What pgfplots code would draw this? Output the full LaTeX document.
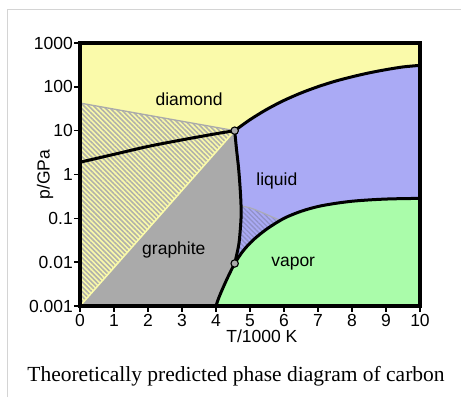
\documentclass[border=0pt]{standalone}
\usepackage{pgfplots}
\pgfplotsset{compat=1.18}
\usepackage{fontspec}
\setmainfont{Liberation Sans}
\newfontfamily\capfont{Liberation Serif}
\usetikzlibrary{patterns.meta}
\definecolor{dY}{RGB}{250,250,170}
\definecolor{gG}{RGB}{170,170,170}
\definecolor{lB}{RGB}{170,170,245}
\definecolor{vG}{RGB}{170,252,170}
\definecolor{hB}{RGB}{145,145,200}
\definecolor{frameG}{RGB}{212,212,212}
\begin{document}
\begin{tikzpicture}
\draw[frameG, line width=1pt] (7pt,0pt) -- (7pt,387pt) -- (461pt,387pt);
\begin{axis}[
  at={(80pt,91pt)}, anchor=south west,
  width=340pt, height=263pt, scale only axis,
  xmin=0, xmax=10, ymin=0.001, ymax=1000, ymode=log,
  xtick={0,1,2,3,4,5,6,7,8,9,10},
  ytick={0.001,0.01,0.1,1,10,100,1000},
  yticklabels={0.001,0.01,0.1,1,10,100,1000},
  yminorticks=false,
  tick align=outside, major tick length=6pt,
  xtick pos=left, ytick pos=left,
  tick style={black, line width=1.4pt},
  axis line style={line width=3.2pt},
  axis background/.style={fill=dY},
  axis on top,
  /pgf/number format/assume math mode=true,
  tick label style={font=\fontsize{17.5}{20}\selectfont},
  xticklabel style={inner sep=2.3pt},
  yticklabel style={inner sep=1pt},
  xlabel={T/1000 K}, ylabel={p/GPa},
  label style={font=\fontsize{17.5}{20}\selectfont},
  xlabel style={at={(rel axis cs:0.535,-0.116)}, anchor=center},
  ylabel style={at={(rel axis cs:-0.103,0.5)}, anchor=center},
]
% diamond (background)
\addplot[fill=dY, draw=none] coordinates {(0,0.001)(10,0.001)(10,1000)(0,1000)} -- cycle;
% graphite
\addplot[fill=gG, draw=none] coordinates {
(0,0.001)(0,1.905)(1,2.884)(2,4.365)(3,6.166)(4,8.511)(4.55,10)
(4.60,3.98)(4.66,1.514)(4.70,0.631)(4.73,0.263)(4.74,0.126)(4.72,0.0631)(4.67,0.0251)(4.55,0.00933)
(4.35,0.00457)(4.22,0.00275)(4.12,0.00182)(4.05,0.001318)(4.0,0.001)} -- cycle;
% liquid
\addplot[fill=lB, draw=none] coordinates {
(4.55,10)(5.0,17.8)(5.5,30.8)(6.0,49.0)(6.5,72.4)(7.0,100.9)(7.5,134.0)(8.0,169.4)(8.5,208.0)(9.0,246.6)(9.5,284.4)(10,309)
(10,0.2851)(9.5,0.2818)(9.0,0.2754)(8.5,0.263)(8.0,0.2455)(7.5,0.2188)(7.0,0.1862)(6.5,0.1445)(6.0,0.1)(5.5,0.0575)(5.1,0.03236)(4.8,0.0182)(4.55,0.00933)
(4.67,0.0251)(4.72,0.0631)(4.74,0.126)(4.73,0.263)(4.70,0.631)(4.66,1.514)(4.60,3.98)} -- cycle;
% vapor
\addplot[fill=vG, draw=none] coordinates {
(4.0,0.001)(4.05,0.001318)(4.12,0.00182)(4.22,0.00275)(4.35,0.00457)(4.55,0.00933)(4.8,0.0182)(5.1,0.03236)(5.5,0.0575)(6.0,0.1)(6.5,0.1445)(7.0,0.1862)(7.5,0.2188)(8.0,0.2455)(8.5,0.263)(9.0,0.2754)(9.5,0.2818)(10,0.2851)(10,0.001)} -- cycle;
% metastable region 1
\addplot[fill=dY, draw=none] coordinates {(0,0.001)(4.55,10)(0,42.66)} -- cycle;
\addplot[draw=none, pattern={Lines[angle=-45,distance=3.4pt,line width=1.6pt]}, pattern color=gG!90!dY] coordinates {(0,0.001)(4.55,10)(0,42.66)} -- cycle;
\addplot[gG, line width=1.3pt] coordinates {(0,42.66)(4.55,10)};
\addplot[dY, line width=1.6pt] coordinates {(0,0.001)(4.55,10)};
% metastable region 2
\addplot[fill=lB, draw=none] coordinates {(4.735,0.1905)(5.0,0.1738)(5.3,0.1413)(5.6,0.1122)(5.9,0.0891)(5.5,0.0575)(5.1,0.03236)(4.8,0.0182)(4.55,0.00933)(4.67,0.0251)(4.72,0.0631)(4.74,0.126)} -- cycle;
\addplot[draw=none, pattern={Lines[angle=-45,distance=3.4pt,line width=1.3pt]}, pattern color=hB] coordinates {(4.735,0.1905)(5.0,0.1738)(5.3,0.1413)(5.6,0.1122)(5.9,0.0891)(5.5,0.0575)(5.1,0.03236)(4.8,0.0182)(4.55,0.00933)(4.67,0.0251)(4.72,0.0631)(4.74,0.126)} -- cycle;
\addplot[gG!85!lB, line width=1.2pt, smooth] coordinates {(4.735,0.1905)(5.0,0.1738)(5.3,0.1413)(5.6,0.1122)(5.9,0.0891)};
% phase boundaries
\addplot[black, line width=3pt, smooth] coordinates {(0,1.905)(1,2.884)(2,4.365)(3,6.166)(4,8.511)(4.55,10)};
\addplot[black, line width=3pt, smooth] coordinates {(4.55,10)(5.0,17.8)(5.5,30.8)(6.0,49.0)(6.5,72.4)(7.0,100.9)(7.5,134.0)(8.0,169.4)(8.5,208.0)(9.0,246.6)(9.5,284.4)(10,309)};
\addplot[black, line width=3pt, smooth] coordinates {(4.55,10)(4.60,3.98)(4.66,1.514)(4.70,0.631)(4.73,0.263)(4.74,0.126)(4.72,0.0631)(4.67,0.0251)(4.55,0.00933)};
\addplot[black, line width=3pt, smooth] coordinates {(4.0,0.001)(4.05,0.001318)(4.12,0.00182)(4.22,0.00275)(4.35,0.00457)(4.55,0.00933)(4.8,0.0182)(5.1,0.03236)(5.5,0.0575)(6.0,0.1)(6.5,0.1445)(7.0,0.1862)(7.5,0.2188)(8.0,0.2455)(8.5,0.263)(9.0,0.2754)(9.5,0.2818)(10,0.2851)};
% triple points
\addplot[only marks, mark=*, mark size=3.7pt, mark options={fill=gG, draw=black, line width=1.1pt}] coordinates {(4.55,10)(4.55,0.00933)};
% phase names
\node[font=\fontsize{17.5}{20}\selectfont] at (axis cs:3.21,51) {diamond};
\node[font=\fontsize{17.5}{20}\selectfont] at (axis cs:5.79,0.72) {liquid};
\node[font=\fontsize{17.5}{20}\selectfont] at (axis cs:2.76,0.0186) {graphite};
\node[font=\fontsize{17.5}{20}\selectfont] at (axis cs:6.27,0.0093) {vapor};
\end{axis}
\node[font=\capfont\fontsize{21.5}{24}\selectfont, anchor=base] at (236pt,15.5pt) {Theoretically predicted phase diagram of carbon};
\pgfresetboundingbox
\path (0pt,0pt) rectangle (461pt,397pt);
\end{tikzpicture}
\end{document}
